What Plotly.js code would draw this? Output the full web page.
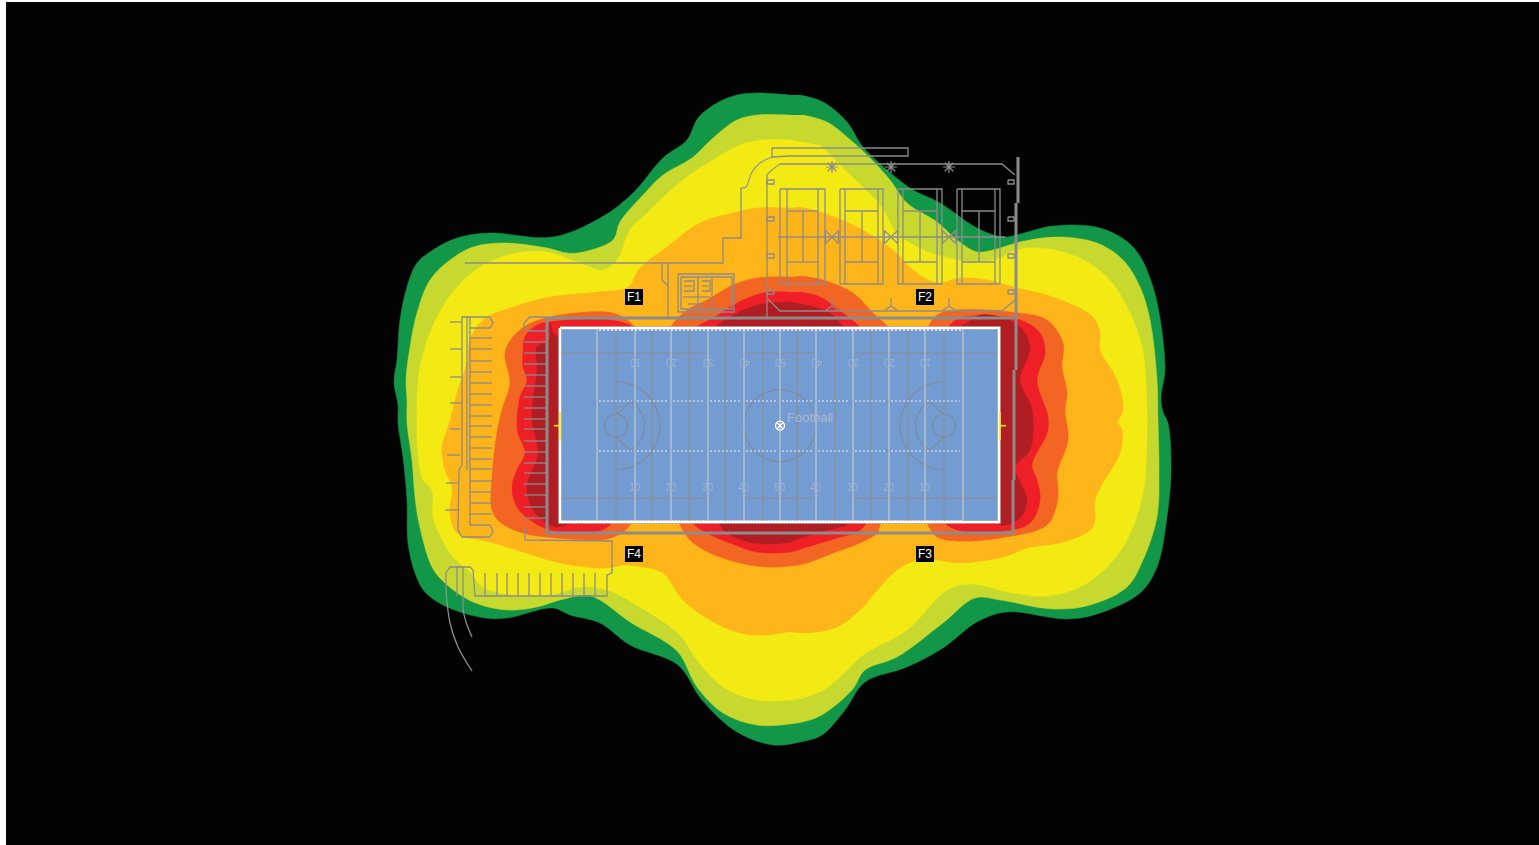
<!DOCTYPE html>
<html><head><meta charset="utf-8">
<script src="https://cdn.plot.ly/plotly-3.0.1.min.js"></script>
<style>html,body{margin:0;padding:0;background:#fff;overflow:hidden}#chart{width:1539px;height:845px}</style>
</head><body><div id="chart"></div>
<script>
// Isolines of light level (plan coordinates)
const levelGreen=[[790,95],[757,93],[737,95],[717,103],[698,118],[687,140],[663,158],[633,193],[602,217],[553,237],[490,233],[457,238],[433,250],[417,263],[407,287],[400,320],[397,360],[394,382],[398,405],[398,423],[403,457],[407,500],[408,543],[415,573],[425,592],[447,607],[485,618],[507,618],[553,608],[570,615],[600,623],[630,645],[678,665],[702,700],[737,732],[773,745],[800,742],[822,735],[845,710],[865,682],[907,667],[943,648],[977,622],[1007,612],[1067,619],[1097,614],[1140,593],[1157,567],[1167,517],[1171,470],[1168,423],[1163,412],[1161,398],[1165,367],[1153,287],[1133,247],[1100,228],[1053,226],[1020,234],[1003,237],[977,228],[940,203],[913,190],[893,175],[863,147],[847,122],[823,102],[800,95]];
const levelLime=[[790,115],[757,115],[737,120],[713,138],[692,158],[663,175],[643,195],[620,222],[613,240],[583,252],[567,253],[547,248],[503,243],[473,247],[450,260],[430,280],[417,313],[410,347],[406,380],[407,400],[407,423],[412,460],[415,497],[419,523],[432,567],[445,583],[473,602],[507,610],[537,607],[560,600],[587,595],[600,600],[630,622],[677,651],[697,687],[723,713],[757,725],[790,724],[810,720],[825,713],[852,690],[865,670],[897,657],[943,623],[975,598],[1000,600],[1053,609],[1090,605],[1127,587],[1143,560],[1157,517],[1159,470],[1158,420],[1157,380],[1150,320],[1140,287],[1123,260],[1097,243],[1057,237],[1020,242],[993,250],[977,252],[957,240],[937,222],[907,203],[890,180],[870,158],[847,137],[827,122],[803,115]];
const levelYellow=[[790,140],[763,140],[740,145],[713,160],[683,180],[647,213],[630,230],[617,260],[603,270],[577,262],[547,252],[517,253],[487,263],[467,277],[447,300],[430,333],[420,367],[417,400],[417,423],[418,453],[423,480],[432,490],[433,517],[440,535],[453,557],[470,572],[483,587],[513,595],[550,595],[580,587],[607,590],[640,607],[680,635],[697,660],[723,687],[757,700],[790,700],[803,698],[823,690],[840,677],[863,655],[907,630],[947,590],[970,584],[1013,593],[1047,596],[1080,587],[1107,567],[1127,540],[1143,493],[1147,430],[1147,410],[1142,347],[1127,307],[1107,277],[1077,257],[1040,248],[1017,250],[1000,258],[975,263],[957,260],[923,250],[897,233],[880,205],[850,175],[820,145]];
const levelAmber=[[790,208],[757,208],[737,212],[700,223],[667,247],[640,268],[628,287],[597,292],[550,297],[513,307],[483,320],[470,340],[467,363],[457,393],[450,420],[448,427],[442,447],[445,470],[452,487],[450,513],[457,533],[490,542],[523,552],[560,563],[607,568],[623,565],[643,567],[663,573],[683,600],[710,620],[740,633],[767,635],[790,632],[807,633],[837,627],[860,610],[880,587],[897,570],[917,560],[937,560],[960,563],[1007,556],[1027,548],[1063,542],[1093,527],[1095,500],[1100,488],[1120,453],[1122,430],[1118,422],[1123,410],[1117,380],[1100,350],[1100,333],[1093,317],[1053,297],[1017,288],[987,280],[960,278],[937,283],[913,270],[893,250],[857,227],[823,213],[800,207]];
const levelOrange=[[790,277],[757,278],[733,285],[707,300],[687,310],[672,325],[668,335],[640,335],[633,325],[623,317],[607,312],[587,312],[550,317],[527,325],[513,337],[505,353],[510,383],[502,410],[497,433],[492,477],[492,510],[500,522],[523,533],[557,538],[607,539],[623,532],[630,525],[635,515],[675,515],[680,525],[690,540],[710,553],[740,563],[767,567],[790,566],[807,563],[833,553],[860,543],[877,533],[880,525],[885,515],[922,515],[928,525],[937,537],[960,541],[1000,538],[1047,525],[1057,503],[1058,487],[1057,473],[1068,440],[1065,410],[1067,393],[1062,367],[1063,343],[1047,320],[1010,312],[957,310],[937,315],[928,327],[924,335],[892,335],[888,327],[873,313],[853,293],[823,280],[800,276]];
const levelRed=[[790,292],[763,293],[737,303],[713,318],[697,327],[692,335],[640,335],[633,327],[617,321],[590,319],[557,321],[537,325],[525,337],[523,353],[523,367],[527,380],[520,397],[517,420],[518,433],[525,453],[517,470],[512,487],[517,507],[530,520],[550,530],[590,533],[610,525],[614,515],[690,515],[695,525],[707,533],[730,543],[757,552],[790,552],[807,547],[837,538],[857,532],[865,525],[870,515],[942,515],[947,525],[967,532],[997,532],[1030,523],[1040,500],[1037,480],[1032,465],[1047,433],[1048,417],[1037,380],[1045,353],[1040,333],[1020,320],[987,316],[960,318],[948,327],[944,335],[865,335],[860,327],[843,313],[820,297],[800,292]];
const levelDark=[[790,302],[757,305],[730,317],[715,327],[710,335],[555,335],[550,323],[549,340],[537,347],[537,370],[533,400],[532,420],[538,453],[527,487],[533,510],[550,525],[556,527],[600,515],[716,515],[720,525],[727,533],[753,543],[790,542],[800,538],[840,527],[847,525],[852,515],[995,515],[1000,525],[1020,518],[1027,500],[1020,482],[1015,467],[1030,450],[1032,410],[1020,380],[1030,347],[1020,327],[1000,317],[980,315],[967,323],[960,327],[955,335],[848,335],[843,327],[830,313],[807,305]];
const levelNames=['levelGreen','levelLime','levelYellow','levelAmber','levelOrange','levelRed','levelDark'];
const levelPolys=[levelGreen,levelLime,levelYellow,levelAmber,levelOrange,levelRed,levelDark];
const levelColors=['#129647','#C7D92E','#F3EA14','#FDB519','#F36523','#EF1F27','#B01E24'];

// Field
const fieldX=[560,999,999,560,560], fieldY=[328,328,522,522,328];
const yardLines=[597,635,671,708,744,780,816,853,889,925,963];
const gridLines=[616,652,689,725,763,797,835,871,908,944];
const sideLines=[353,498];
const hashRows=[330,401,451,521];
const yardNumbers=['10','20','30','40','50','40','30','20','10'];
const yardNumberX=[635,671,708,744,780,816,853,889,925];
const fixtures=[{t:'F1',x:634,y:297},{t:'F2',x:925,y:297},{t:'F4',x:634,y:554},{t:'F3',x:925,y:554}];

// Site plan linework
const heavyLines=[
 [[547,318],[1014,318]],[[547,318],[547,533],[1013,533],[1013,480]],
 [[1018,157],[1018,203]],[[1016,203],[1016,370]],[[1014,370],[1014,480]]
];
const planLines=[
 [[465,263],[692,263],[723,263],[723,238],[741,238],[741,188]],
 [[772,157],[772,148],[908,148],[908,156],[790,156],[772,157]],
 [[767,317],[767,175]],[[780,164],[1002,164],[1015,175]],[[1015,300],[1002,311],[780,311],[768,299]],
 [[668,263],[668,318]],[[662,263],[662,280],[668,286]],
 [[778,237],[1005,237]],
 [[678,274],[734,274],[734,312],[678,312],[678,274]],[[681,277],[732,277],[732,309],[681,309],[681,277]],
 [[698,277],[698,309]],[[712,277],[712,309]],[[683,297],[710,297]],[[684,281],[694,281],[694,291],[684,291]],[[702,281],[710,281],[710,291],[702,291]],[[688,304],[705,304]],[[684,286],[692,286]],[[702,286],[708,286]],
 [[547,317],[530,317],[524,323],[524,328],[530,331],[547,331]],
 [[525,528],[525,540],[612,541],[612,573],[607,575],[607,596],[475,596],[473,570],[470,567],[450,567],[446,573],[446,590]],
 [[463,567],[463,610]],[[457,567],[457,596]],
 [[470,317],[470,525],[490,525],[493,531],[490,537],[462,537],[458,530],[459,470],[462,465],[462,317],[490,317],[493,323],[490,328],[470,328]],
 [[467,317],[467,470]],
 [[450,322],[462,322]],[[450,349],[462,349]],[[450,377],[462,377]],[[450,403],[462,403]],[[450,429],[460,429]],[[447,455],[460,455]],[[446,483],[459,483]],[[445,510],[458,510]]
];
const roadCurves=[
 [[741,188],[746,187],[752,172],[760,163],[772,157]],
 [[767,175],[772,170],[780,164]],
 [[446,590],[450,623],[458,647],[472,671]],
 [[463,610],[466,622],[472,637]]
];
const courtLeft=[780,840,898,957], courtRight=[825,883,942,1000];
const courtInnerL=[787,845,903,962], courtInnerR=[818,878,937,995], courtNet=[803,862,920,979];
const leftStallY=[338,349,361,372,383,394,405,416,426,437,448,459,469,481,492,503,514];
const innerStallY=[342,353,364,375,386,397,408,419,429,441,452,463,473,484,495,507,518];
const bottomStallX=[485,497,507,518,529,540,551,562,573,584,595];
const polesX=[832,891,949];
const poleRowsY=[167,237,306];
const boxRowY=[182,219,256,292];

function flat(lines){const x=[],y=[];lines.forEach(l=>{l.forEach(p=>{x.push(p[0]);y.push(p[1]);});x.push(null);y.push(null);});return{x,y};}
function arc(cx,cy,r,a0,a1){const p=[];for(let a=a0;a<=a1+.01;a+=6){p.push([cx+r*Math.cos(a*Math.PI/180),cy+r*Math.sin(a*Math.PI/180)]);}return p;}
const courtLines=[];
courtLeft.forEach((l,i)=>{const r=courtRight[i],a=courtInnerL[i],b=courtInnerR[i],n=courtNet[i];
 courtLines.push([[l,189],[r,189],[r,284],[l,284],[l,189]],[[a,189],[a,284]],[[b,189],[b,284]],[[a,211],[b,211]],[[a,262],[b,262]],[[n,211],[n,262]]);});
leftStallY.forEach(y=>courtLines.push([[470,y],[492,y]]));
innerStallY.forEach(y=>courtLines.push([[524,y],[547,y]]));
bottomStallX.forEach(x=>courtLines.push([[x,573],[x,596]]));
boxRowY.forEach(y=>{courtLines.push([[767,y-2],[774,y-2],[774,y+2],[767,y+2],[767,y-2]],[[1008,y-2],[1014,y-2],[1014,y+2],[1008,y+2],[1008,y-2]]);});

const traces=[];
levelPolys.forEach((poly,i)=>traces.push({type:'scatter',mode:'lines',name:levelNames[i],x:poly.map(p=>p[0]),y:poly.map(p=>p[1]),fill:'toself',fillcolor:levelColors[i],line:{width:0.5,color:levelColors[i],shape:'spline',smoothing:1.0},hoverinfo:'skip'}));
function addLines(lines,color,w,dash,shape){const f=flat(lines);traces.push({type:'scatter',mode:'lines',x:f.x,y:f.y,line:{color,width:w,dash:dash||'solid',shape:shape||'linear'},hoverinfo:'skip',connectgaps:false});}
addLines(planLines,'#8c8c8c',1.3);
addLines(roadCurves,'#959595',1.2,'solid','spline');
addLines(courtLines,'#8c8c8c',1.3);
addLines(heavyLines,'#8c8c8c',3);
// field
traces.push({type:'scatter',mode:'lines',x:fieldX,y:fieldY,fill:'toself',fillcolor:'#739CD2',line:{color:'#b4b4b4',width:3.5},hoverinfo:'skip'});
addLines(gridLines.map(x=>[[x,330],[x,521]]),'#87919f',1.6);
addLines(sideLines.flatMap(y=>[[[562,y],[707,y]],[[745,y],[815,y]],[[853,y],[997,y]]]),'#87919f',1.4);
const arcs=[arc(616,425.7,11.5,0,360),arc(616,425.7,44,-90,90),arc(616,425.7,28.5,-60,60),[[616,415],[630,402]],[[616,437],[630,450]],
 arc(944,425.7,11.5,0,360),arc(944,425.7,44,90,270),arc(944,425.7,28.5,120,240),[[944,415],[930,402]],[[944,437],[930,450]],
 arc(780,425.7,36,0,360)];
addLines(arcs,'#808a9a',1.2);
addLines(yardLines.map(x=>[[x,329],[x,521]]),'#b2bccb',1.6);
addLines(hashRows.slice(1,3).flatMap(y=>yardLines.slice(0,-1).map((x,i)=>[[x+2,y],[yardLines[i+1]-3,y]])),'#c9d3e2',1.5,'2px,2px');
addLines([[[599,330],[962,330]]],'#d6deea',2,'2px,2px');
addLines([[[561,521.5],[963,521.5]]],'#ffffff',2,'2px,1px');
addLines([[[560,328],[999,328],[999,522],[963,522]],[[963,522],[560,522],[560,328]]],'#ffffff',2);
addLines([[[560,412],[560,440]],[[554,425.7],[560,425.7]],[[1000,412],[1000,440]],[[1000,425.7],[1006,425.7]]],'#F3EA14',1.6);
traces.push({type:'scatter',mode:'markers',x:[780],y:[425.7],marker:{symbol:'circle-x-open',size:9,color:'#ffffff',line:{color:'#ffffff',width:1.3}},hoverinfo:'skip'});
// light poles
const poleSymbols=['asterisk-open','bowtie-open','y-up-open'];
poleRowsY.forEach((y,i)=>traces.push({type:'scatter',mode:'markers',x:polesX,y:polesX.map(()=>y),marker:{symbol:poleSymbols[i],size:i===1?13:10,color:'#8c8c8c',line:{color:'#8c8c8c',width:1.2}},hoverinfo:'skip'}));

const annotations=[];
yardNumberX.forEach((x,i)=>{
 annotations.push({x,y:487,text:yardNumbers[i],showarrow:false,font:{family:'Liberation Sans',size:10,color:'#9fb2cf'}});
 annotations.push({x,y:363,text:yardNumbers[i],showarrow:false,textangle:180,font:{family:'Liberation Sans',size:10,color:'#9fb2cf'}});
});
annotations.push({x:810,y:417,text:'Football',showarrow:false,font:{family:'Liberation Sans',size:13,color:'#a9b7cc'}});
const shapes=[];
fixtures.forEach(f=>{
 shapes.push({type:'rect',xref:'x',yref:'y',x0:f.x-9,x1:f.x+9,y0:f.y-8,y1:f.y+8,fillcolor:'#000',line:{width:0},layer:'above'});
 annotations.push({x:f.x,y:f.y,text:f.t,showarrow:false,font:{family:'Liberation Sans',size:12,color:'#ffffff'}});
});
const axis={visible:false,fixedrange:true,autorange:false,showgrid:false,zeroline:false};
Plotly.newPlot('chart',traces,{
 width:1539,height:845,showlegend:false,paper_bgcolor:'#ffffff',plot_bgcolor:'#030303',
 margin:{l:6,r:0,t:2,b:0,pad:0},
 xaxis:Object.assign({range:[6,1539]},axis),
 yaxis:Object.assign({range:[845,2]},axis),
 annotations,shapes
},{staticPlot:true,displayModeBar:false});
</script></body></html>
